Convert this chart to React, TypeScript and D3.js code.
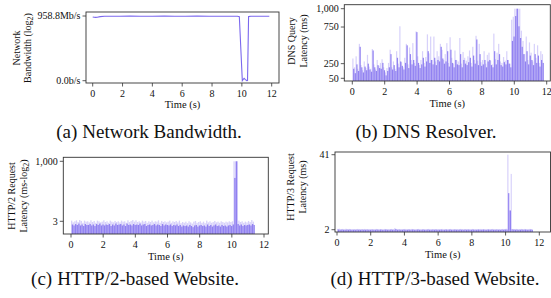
import React from 'react';
import * as d3 from 'd3';

const purple = '#7b68ee';
const font = 'Liberation Serif';
const ink = '#333';

const timeTicks = [0, 2, 4, 6, 8, 10, 12];

// (a) network bandwidth, Mb/s
const bwTime = [0.0, 0.1, 0.2, 0.3, 0.5, 0.8, 1.2, 1.8, 2.5, 3.2, 4.0, 4.8, 5.5, 6.2, 7.0, 7.8, 8.5, 9.2, 9.7, 9.83, 10.03, 10.15, 10.22, 10.33, 10.38, 10.45, 10.6, 11.0, 11.5, 11.84];
const bwMbps = [945, 940, 938, 941, 950, 955, 956, 955, 957, 956, 955, 957, 956, 955, 957, 956, 955, 956, 955, 950, 0, 36, 20, 0, 2, 950, 955, 956, 955, 954];
const bwTicks = [0, 958.8];
const bwTickLabels = ['0.0b/s', '958.8Mb/s'];

// (b) DNS query latency (ms), 0.1 s bins from 0 to 11.7
const dnsPeak = [
  320, 200, 350, 180, 520, 230, 160, 280, 190, 370,
  210, 180, 450, 240, 170, 300, 220, 260, 310, 200,
  130, 190, 260, 440, 200, 280, 180, 420, 250, 760,
  270, 200, 330, 520, 240, 470, 300, 530, 260, 690,
  350, 230, 300, 420, 260, 340, 650, 390, 620, 300,
  620, 280, 420, 350, 520, 440, 300, 380, 530, 260,
  610, 330, 250, 430, 300, 280, 600, 250, 410, 330,
  290, 350, 430, 260, 480, 300, 630, 290, 520, 270,
  300, 420, 250, 370, 400, 290, 240, 660, 310, 400,
  520, 280, 260, 340, 290, 420, 300, 250, 850, 890,
  1000, 1000, 1000, 1000, 700, 560, 380, 620, 300, 540,
  400, 280, 520, 330, 500, 260, 420, 380,
];
const dnsBody = [
  180, 120, 240, 150, 480, 200, 130, 210, 160, 250,
  170, 140, 430, 200, 150, 230, 190, 180, 260, 160,
  90, 150, 200, 380, 170, 230, 150, 330, 200, 280,
  220, 170, 260, 500, 190, 380, 240, 300, 220, 680,
  260, 190, 240, 330, 210, 280, 420, 260, 300, 240,
  330, 230, 300, 280, 480, 320, 250, 280, 420, 210,
  440, 260, 200, 300, 240, 230, 380, 200, 300, 250,
  230, 270, 330, 210, 360, 250, 580, 230, 380, 220,
  240, 300, 200, 280, 300, 230, 200, 420, 240, 300,
  380, 230, 210, 270, 240, 300, 250, 200, 560, 620,
  900, 1000, 760, 600, 480, 380, 280, 420, 240, 360,
  300, 230, 380, 260, 360, 210, 300, 260,
];
const dnsTicks = [50, 250, 750, 1000];

// (c) HTTP/2 request latency (ms), 0.1 s bins from 0 to 11.3
const h2Peak = [
  3.2, 2.7, 3.0, 3.3, 2.8, 3.4, 3.1, 2.6, 3.2, 2.9,
  3.0, 2.7, 3.3, 2.8, 3.1, 2.6, 3.2, 3.0, 2.7, 2.9,
  3.3, 2.8, 3.0, 2.6, 3.2, 2.9, 2.7, 3.1, 2.8, 3.0,
  2.7, 3.2, 2.9, 3.0, 2.6, 3.3, 2.8, 3.1, 3.4, 2.9,
  3.3, 2.8, 3.0, 2.7, 3.2, 2.9, 3.1, 2.6, 3.0, 2.8,
  3.2, 2.7, 3.0, 2.9, 3.3, 2.6, 3.1, 2.8, 3.0, 2.7,
  2.9, 3.2, 2.6, 3.0, 2.8, 3.1, 2.7, 3.2, 2.5, 2.8,
  2.6, 2.9, 2.5, 3.0, 2.7, 2.4, 2.9, 3.1, 2.6, 2.8,
  3.0, 2.6, 2.9, 2.5, 3.2, 2.7, 3.0, 2.6, 2.8, 3.1,
  2.7, 2.9, 2.6, 3.0, 2.8, 2.6, 2.9, 2.7, 3.0, 2.8,
  3.0, 1000, 1000, 1000, 3.2, 2.8, 3.0, 2.6, 2.9, 2.7,
  3.1, 2.8, 3.4, 2.9,
];
const h2Body = [
  2.2, 2.0, 2.3, 2.1, 2.4, 2.0, 2.2, 1.9, 2.3, 2.1,
  2.1, 2.3, 2.0, 2.2, 1.9, 2.3, 2.1, 2.4, 2.0, 2.2,
  2.0, 2.2, 2.1, 2.3, 1.9, 2.2, 2.0, 2.4, 2.1, 2.2,
  2.3, 2.0, 2.2, 1.9, 2.4, 2.1, 2.2, 2.0, 2.3, 2.1,
  2.2, 2.1, 2.4, 2.0, 2.2, 2.3, 1.9, 2.1, 2.2, 2.0,
  2.1, 2.3, 2.0, 2.2, 2.1, 1.9, 2.3, 2.0, 2.2, 2.1,
  2.0, 2.2, 1.9, 2.1, 2.0, 2.2, 1.9, 2.1, 1.8, 2.0,
  1.9, 2.0, 1.8, 2.1, 1.9, 1.7, 2.0, 2.1, 1.8, 2.0,
  2.1, 1.9, 2.0, 1.8, 2.2, 1.9, 2.1, 1.8, 2.0, 2.2,
  1.9, 2.0, 1.8, 2.1, 1.9, 2.0, 1.8, 2.0, 2.1, 1.9,
  2.2, 200, 1000, 2.3, 2.0, 2.2, 1.9, 2.1, 2.0, 2.1,
  2.2, 2.0, 2.3, 2.1,
];
const h2Ticks = [3, 1000];

// (d) HTTP/3 request latency (ms), 0.1 s bins from 0 to 11.5
const h3Peak = [
  2.4, 2.5, 2.3, 2.4, 2.2, 2.5, 2.3, 2.4, 2.2, 2.3,
  2.3, 2.2, 2.4, 2.3, 2.2, 2.3, 2.4, 2.2, 2.3, 2.2,
  2.2, 2.3, 2.2, 2.4, 2.3, 2.2, 2.3, 2.2, 2.4, 2.3,
  2.3, 2.2, 2.4, 2.3, 2.9, 2.4, 2.2, 2.3, 2.2, 2.3,
  2.4, 2.2, 2.3, 2.2, 2.4, 2.3, 2.2, 2.3, 2.4, 2.2,
  2.2, 2.3, 2.2, 2.3, 2.4, 2.2, 2.3, 2.2, 2.3, 2.2,
  2.3, 2.2, 2.4, 2.2, 2.3, 2.2, 2.3, 2.4, 2.2, 2.3,
  2.2, 2.3, 2.2, 2.4, 2.3, 2.2, 2.3, 2.2, 2.3, 2.2,
  2.4, 2.2, 2.3, 2.2, 2.3, 2.4, 2.2, 2.3, 2.2, 2.3,
  2.2, 2.3, 2.4, 2.2, 2.3, 2.2, 2.3, 2.2, 2.4, 2.3,
  2.5, 41, 12, 31, 2.4, 2.3, 2.4, 2.2, 2.3, 2.4,
  2.3, 2.4, 2.2, 2.3, 2.4, 2.3,
];
const h3Body = [
  2.1, 2.0, 2.1, 2.0, 2.0, 2.1, 2.0, 2.1, 2.0, 2.0,
  2.0, 2.1, 2.0, 2.0, 2.1, 2.0, 2.0, 2.1, 2.0, 2.0,
  2.1, 2.0, 2.0, 2.1, 2.0, 2.1, 2.0, 2.0, 2.1, 2.0,
  2.0, 2.1, 2.0, 2.0, 2.3, 2.0, 2.1, 2.0, 2.0, 2.1,
  2.0, 2.0, 2.1, 2.0, 2.1, 2.0, 2.0, 2.1, 2.0, 2.0,
  2.1, 2.0, 2.0, 2.1, 2.0, 2.0, 2.1, 2.0, 2.1, 2.0,
  2.0, 2.1, 2.0, 2.0, 2.1, 2.0, 2.1, 2.0, 2.0, 2.1,
  2.0, 2.0, 2.1, 2.0, 2.0, 2.1, 2.0, 2.1, 2.0, 2.0,
  2.1, 2.0, 2.0, 2.1, 2.0, 2.0, 2.1, 2.0, 2.0, 2.1,
  2.0, 2.1, 2.0, 2.0, 2.1, 2.0, 2.0, 2.1, 2.0, 2.1,
  2.1, 21, 12, 2.2, 2.1, 2.0, 2.1, 2.0, 2.0, 2.1,
  2.0, 2.1, 2.0, 2.0, 2.1, 2.0,
];
const h3Ticks = [2, 41];

type Box = { l: number; r: number; t: number; b: number };

function Axes(props: {
  box: Box;
  x: d3.ScaleLinear<number, number>;
  y: (v: number) => number;
  yTicks: number[];
  yLabels: string[];
  tickBase: number;
  labelBase: number;
}) {
  const { box, x, y, yTicks, yLabels, tickBase, labelBase } = props;
  return (
    <g fontFamily={font} fill="#111">
      <rect x={box.l} y={box.t} width={box.r - box.l} height={box.b - box.t} fill="none" stroke={ink} strokeWidth={0.9} />
      {timeTicks.map((t) => (
        <g key={t}>
          <line x1={x(t)} x2={x(t)} y1={box.b} y2={box.b + 3.5} stroke={ink} strokeWidth={0.8} />
          <text x={x(t)} y={tickBase} fontSize={10} textAnchor="middle">{t}</text>
        </g>
      ))}
      {yTicks.map((v, i) => (
        <g key={v}>
          <line x1={box.l - 3.5} x2={box.l} y1={y(v)} y2={y(v)} stroke={ink} strokeWidth={0.8} />
          <text x={box.l - 5.5} y={y(v)} dy="0.33em" fontSize={10} textAnchor="end">{yLabels[i]}</text>
        </g>
      ))}
      <text x={(box.l + box.r) / 2} y={labelBase} fontSize={10.5} textAnchor="middle">Time (s)</text>
    </g>
  );
}

function YLabel(props: { x1: number; x2: number; cy: number; line1: string; line2: React.ReactNode }) {
  const { x1, x2, cy, line1, line2 } = props;
  return (
    <g fontFamily={font} fontSize={10} fill="#111" textAnchor="middle">
      <text transform={`translate(${x1},${cy}) rotate(-90)`}>{line1}</text>
      <text transform={`translate(${x2},${cy}) rotate(-90)`}>{line2}</text>
    </g>
  );
}

function Bars(props: {
  data: number[];
  offset: number;
  x: d3.ScaleLinear<number, number>;
  y: (v: number) => number;
  base: number;
  top: number;
  width: number;
  opacity: number;
}) {
  const { data, offset, x, y, base, top, width, opacity } = props;
  return (
    <g fill={purple} fillOpacity={opacity}>
      {data.map((v, i) => {
        const yy = Math.max(top, y(v));
        return <rect key={i} x={x(i * 0.1 + offset)} y={yy} width={width} height={Math.max(0, base - yy)} />;
      })}
    </g>
  );
}

function Caption(props: { x: number; y: number; tag: string; text: string }) {
  return (
    <text x={props.x} y={props.y} fontFamily={font} fontSize={19} textAnchor="middle" fill="#111">
      {props.tag}
      <tspan dx={5}>{props.text}</tspan>
    </text>
  );
}

export default function App() {
  // (a)
  const boxA = { l: 86, r: 279, t: 12, b: 83 };
  const xA = d3.scaleLinear().domain([0, 12]).range([92.7, 271.7]);
  const yA = d3.scaleLinear().domain([0, 958.8]).range([80.7, 16]);
  const lineA = d3
    .line<number>()
    .x((_, i) => xA(bwTime[i]))
    .y((d) => yA(d));

  // (b)
  const boxB = { l: 344.3, r: 550.3, t: 4.7, b: 81 };
  const xB = d3.scaleLinear().domain([0, 12]).range([352.3, 546.7]);
  const yB = d3.scaleLinear().domain([50, 1000]).range([78.3, 8.7]);

  // (c)
  const boxC = { l: 63.3, r: 268.3, t: 157.3, b: 234 };
  const xC = d3.scaleLinear().domain([0, 12]).range([71, 264]);
  const yC = d3.scaleLog().base(2).domain([3, 1000]).range([221.3, 161.3]);

  // (d)
  const boxD = { l: 335, r: 550.5, t: 152, b: 232 };
  const xD = d3.scaleLinear().domain([0, 12]).range([337, 539.3]);
  const yD = d3.scaleLinear().domain([2, 41]).range([229.7, 154.7]);

  const fmt = d3.format(',');

  return (
    <svg width={551} height={298} style={{ position: 'absolute', left: 0, top: 0, background: '#fff' }}>
      {/* (a) */}
      <path d={lineA(bwMbps) || ''} fill="none" stroke={purple} strokeWidth={1.1} />
      <Axes box={boxA} x={xA} y={yA} yTicks={bwTicks} yLabels={bwTickLabels} tickBase={96.5} labelBase={108} />
      <YLabel x1={19.5} x2={30.5} cy={48} line1="Network" line2={<>Bandwidth (log<tspan dy={2} fontSize={8}>2</tspan><tspan dy={-2}>)</tspan></>} />
      <Caption x={149} y={138} tag="(a)" text="Network Bandwidth." />

      {/* (b) */}
      <Bars data={dnsPeak} offset={0} x={xB} y={yB} base={boxB.b} top={boxB.t} width={1.2} opacity={0.3} />
      <Bars data={dnsBody} offset={0.05} x={xB} y={yB} base={boxB.b} top={boxB.t} width={1.2} opacity={0.8} />
      <Axes box={boxB} x={xB} y={yB} yTicks={dnsTicks} yLabels={dnsTicks.map(fmt)} tickBase={95} labelBase={106.5} />
      <YLabel x1={295} x2={306.8} cy={41} line1="DNS Query" line2="Latency (ms)" />
      <Caption x={426} y={138} tag="(b)" text="DNS Resolver." />

      {/* (c) */}
      <Bars data={h2Peak} offset={0} x={xC} y={yC} base={boxC.b} top={boxC.t} width={1.3} opacity={0.3} />
      <Bars data={h2Body} offset={0.05} x={xC} y={yC} base={boxC.b} top={boxC.t} width={1.3} opacity={0.8} />
      <Axes box={boxC} x={xC} y={yC} yTicks={h2Ticks} yLabels={h2Ticks.map(fmt)} tickBase={247.5} labelBase={259.5} />
      <YLabel x1={15.2} x2={26.8} cy={196} line1="HTTP/2 Request" line2={<>Latency (ms-log<tspan dy={2} fontSize={8}>2</tspan><tspan dy={-2}>)</tspan></>} />
      <Caption x={135} y={285} tag="(c)" text="HTTP/2-based Website." />

      {/* (d) */}
      <Bars data={h3Peak} offset={0} x={xD} y={yD} base={boxD.b} top={boxD.t} width={1.2} opacity={0.3} />
      <Bars data={h3Body} offset={0.05} x={xD} y={yD} base={boxD.b} top={boxD.t} width={1.2} opacity={0.8} />
      <Axes box={boxD} x={xD} y={yD} yTicks={h3Ticks} yLabels={h3Ticks.map(String)} tickBase={246} labelBase={258} />
      <YLabel x1={293.5} x2={305.8} cy={187} line1="HTTP/3 Request" line2="Latency (ms)" />
      <Caption x={435} y={285} tag="(d)" text="HTTP/3-based Website." />
    </svg>
  );
}
